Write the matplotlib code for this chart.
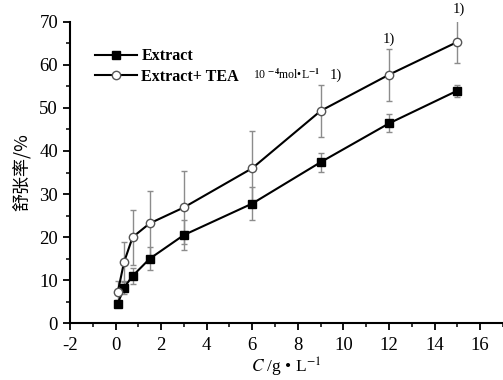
import numpy as np
import matplotlib
matplotlib.use("Agg")
import matplotlib.pyplot as plt

plt.rcParams["font.family"] = ["Liberation Serif", "DejaVu Serif"]
plt.rcParams["mathtext.fontset"] = "stix"
plt.rcParams["axes.unicode_minus"] = False

# 数据
conc = [0.1, 0.375, 0.75, 1.5, 3, 6, 9, 12, 15]
extract = [4.6, 8.3, 11.0, 15.0, 20.5, 27.8, 37.4, 46.4, 54.0]
extract_err = [0.8, 1.5, 1.9, 2.7, 3.5, 3.8, 2.2, 2.1, 1.4]
tea = [7.3, 14.2, 20.0, 23.2, 26.9, 36.0, 49.3, 57.7, 65.3]
tea_err = [2.5, 4.7, 6.4, 7.6, 8.5, 8.6, 6.1, 6.0, 5.0]

fig = plt.figure(figsize=(5.03, 3.8), dpi=100)
ax = fig.add_axes([0.139, 0.149, 0.861, 0.794])

ekw = dict(fmt="none", ecolor="#8c8c8c", elinewidth=1.0, capsize=2.5,
           capthick=1.0, zorder=2)
ax.errorbar(conc, extract, yerr=extract_err, **ekw)
ax.errorbar(conc, tea, yerr=tea_err, **ekw)
ax.plot(conc, extract, color="black", lw=1.5, marker="s", ms=5.5,
        mfc="black", mec="black", label="Extract", zorder=3)
ax.plot(conc, tea, color="black", lw=1.5, marker="o", ms=6, mfc="white",
        mec="#555555", mew=1.0, label="Extract+ TEA", zorder=3)

ax.set_xlim(-2, 17)
ax.set_ylim(0, 70)
ax.set_xticks(np.arange(-2, 17, 2))
ax.set_yticks(np.arange(0, 71, 10))
ax.set_xticks(np.arange(-2, 18, 1), minor=True)
ax.set_yticks(np.arange(0, 71, 5), minor=True)
ax.tick_params(which="major", direction="out", length=5, width=1.3, labelsize=13.5)
ax.tick_params(axis="x", which="major", pad=5)
ax.tick_params(which="minor", direction="out", length=3, width=1.1)
for s in ["top", "right"]:
    ax.spines[s].set_visible(False)
for s in ["left", "bottom"]:
    ax.spines[s].set_linewidth(1.5)

leg = ax.legend(loc="upper left", bbox_to_anchor=(0.025, 0.96), frameon=False,
                handlelength=2.6, handletextpad=0.3, labelspacing=0.3,
                numpoints=1, prop={"size": 11.5, "weight": "bold"})

# 显著性标注
ax.text(253 / 503, 1 - 79 / 380, r"10 $^{\mathbf{-4}}$mol•L$^{\mathbf{-1}}$",
        transform=fig.transFigure, fontsize=8.5, va="baseline", ha="left")
ax.text(330 / 503, 1 - 75 / 380, "1)", transform=fig.transFigure,
        fontsize=10.5, va="center", ha="left")
ax.text(12, 65.9, "1)", ha="center", va="center", fontsize=10.5)
ax.text(15.05, 72.8, "1)", ha="center", va="center", fontsize=10.5, clip_on=False)

ax.set_ylabel("舒张率/%", family=["Noto Sans CJK SC", "DejaVu Sans"],
              fontsize=13, labelpad=6)
ax.set_xlabel(r"$C$ /g • L$^{-1}$", fontsize=12.5, labelpad=1)

fig.savefig("out.png", dpi=100)
